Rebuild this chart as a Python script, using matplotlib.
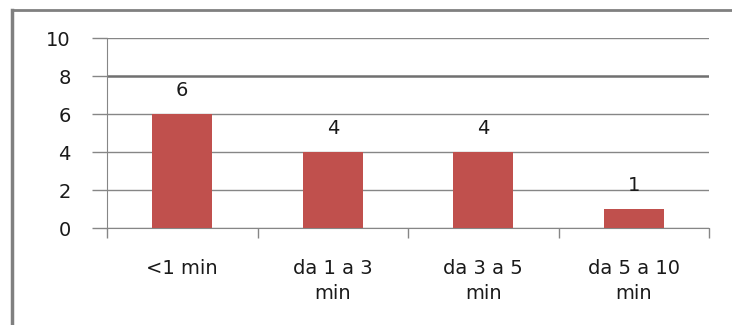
import matplotlib
matplotlib.use('Agg')
import matplotlib.pyplot as plt
from matplotlib.lines import Line2D

# tempi di attesa
categorie = ['<1 min', 'da 1 a 3\nmin', 'da 3 a 5\nmin', 'da 5 a 10\nmin']
valori = [6, 4, 4, 1]
yticks = [0, 2, 4, 6, 8, 10]

rosso = '#C0504D'
grigio = '#868686'

fig = plt.figure(figsize=(7.32, 3.25), dpi=100)
W, H = 732, 325
ax = fig.add_axes([107 / W, 1 - 228 / H, (709 - 107) / W, (228 - 38) / H])

x = list(range(len(categorie)))
ax.bar(x, valori, width=0.4, color=rosso, zorder=3)
for xi, v in zip(x, valori):
    ax.annotate(str(v), (xi, v), xytext=(0, 10), textcoords='offset points',
                ha='center', va='bottom', fontsize=14, color='#1a1a1a')

ax.set_xlim(-0.5, len(categorie) - 0.5)
ax.set_ylim(0, 10)
ax.set_yticks(yticks)
ax.set_yticklabels([str(t) for t in yticks])
ax.yaxis.grid(True, color=grigio, linewidth=1, zorder=0)
ax.set_axisbelow(True)
# la linea dell'8 appare piu' marcata
ax.get_ygridlines()[4].set_linewidth(1.8)
ax.get_ygridlines()[4].set_color('#707070')

# tick dell'asse x sui confini delle categorie
ax.set_xticks([i - 0.5 for i in range(len(categorie) + 1)])
ax.set_xticklabels([])
ax.set_xticks(x, minor=True)
ax.set_xticklabels(categorie, minor=True, fontsize=14, linespacing=1.45,
                   color='#1a1a1a')
ax.tick_params(axis='x', which='minor', length=0, pad=22)
ax.tick_params(axis='x', which='major', length=7, color=grigio, width=1)
ax.tick_params(axis='y', length=11, color=grigio, width=1, labelsize=14,
               pad=15, labelcolor='#1a1a1a')

for s in ['top', 'right']:
    ax.spines[s].set_visible(False)
for s in ['left', 'bottom']:
    ax.spines[s].set_color(grigio)

# cornice esterna
fig.add_artist(Line2D([12 / W, 1], [1 - 10 / H, 1 - 10 / H], color='#808080',
                      linewidth=2, transform=fig.transFigure))
fig.add_artist(Line2D([12 / W, 12 / W], [1 - 10 / H, 0], color='#808080',
                      linewidth=2.5, transform=fig.transFigure))

fig.savefig('out.png', dpi=100)
